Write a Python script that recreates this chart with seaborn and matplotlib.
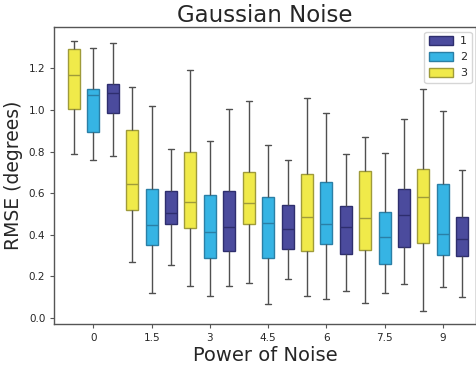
import numpy as np
import pandas as pd
import matplotlib
matplotlib.use("Agg")
import matplotlib.pyplot as plt
from matplotlib.patches import Patch
import seaborn as sns

# Power of noise categories
powers = ["0", "1.5", "3", "4.5", "6", "7.5", "9"]
hue_levels = ["1", "2", "3"]

# five-number summaries: min, q1, median, q3, max
h1_min = [0.779, 0.256, 0.152, 0.186, 0.128, 0.166, 0.099]
h1_q1 = [0.984, 0.451, 0.322, 0.334, 0.306, 0.342, 0.299]
h1_med = [1.080, 0.506, 0.437, 0.427, 0.437, 0.493, 0.382]
h1_q3 = [1.123, 0.610, 0.610, 0.541, 0.536, 0.619, 0.485]
h1_max = [1.320, 0.813, 1.005, 0.758, 0.786, 0.958, 0.712]

h2_min = [0.757, 0.120, 0.106, 0.067, 0.090, 0.122, 0.147]
h2_q1 = [0.893, 0.350, 0.290, 0.288, 0.355, 0.261, 0.304]
h2_med = [1.072, 0.445, 0.414, 0.458, 0.454, 0.389, 0.402]
h2_q3 = [1.099, 0.621, 0.592, 0.582, 0.656, 0.509, 0.643]
h2_max = [1.299, 1.021, 0.853, 0.832, 0.986, 0.795, 0.997]

h3_min = [0.786, 0.267, 0.154, 0.170, 0.106, 0.070, 0.035]
h3_q1 = [1.003, 0.518, 0.435, 0.451, 0.322, 0.328, 0.360]
h3_med = [1.168, 0.643, 0.557, 0.552, 0.485, 0.483, 0.581]
h3_q3 = [1.291, 0.902, 0.797, 0.702, 0.694, 0.706, 0.715]
h3_max = [1.333, 1.109, 1.190, 1.043, 1.059, 0.872, 1.099]

summaries = {
    "1": (h1_min, h1_q1, h1_med, h1_q3, h1_max),
    "2": (h2_min, h2_q1, h2_med, h2_q3, h2_max),
    "3": (h3_min, h3_q1, h3_med, h3_q3, h3_max),
}

rows = []
for h, stats in summaries.items():
    for i, p in enumerate(powers):
        for s in stats:
            rows.append({"Power of Noise": p, "hue": h, "RMSE": s[i]})
df = pd.DataFrame(rows)

fills = {"1": "#4b4b9d", "2": "#36b4e4", "3": "#f0ea4a"}
edges = {"1": "#2e2e6e", "2": "#2a7fa6", "3": "#9f9b3a"}

sns.set_style("ticks")
plt.rcParams["font.family"] = ["DejaVu Sans"]

fig = plt.figure(figsize=(4.77, 3.66), dpi=100)
ax = fig.add_axes([0.114, 0.114, 0.884, 0.812])

order_hue = ["3", "2", "1"]
sns.boxplot(data=df, x="Power of Noise", y="RMSE", hue="hue",
            order=powers, hue_order=order_hue,
            palette=fills, saturation=1, width=1.0, gap=0.38,
            whis=(0, 100), linewidth=1.0, linecolor="#3a3a3a",
            fliersize=0, legend=False, ax=ax)

for cont, h in zip(ax.containers, order_hue):
    for b in cont.boxes:
        b.set_edgecolor(edges[h])
    for m in cont.medians:
        m.set_color(edges[h])
    for w in cont.whiskers:
        w.set_color("#505050")
        w.set_linewidth(1.0)
    for c in cont.caps:
        c.set_color("#505050")

ax.set_xlim(-0.67, 6.57)
for s in ax.spines.values():
    s.set_color("#555555")
    s.set_linewidth(1.0)

ax.tick_params(labelsize=7.5, length=3, color="#555555")
ax.set_xlabel("Power of Noise", fontsize=14, labelpad=2)
ax.set_ylabel("RMSE (degrees)", fontsize=13.5, labelpad=4)
ax.set_title("Gaussian Noise", fontsize=16.5, pad=4)

handles = [Patch(facecolor=fills[h], edgecolor=edges[h], label=h) for h in hue_levels]
ax.legend(handles=handles, loc="upper right", fontsize=8, frameon=True,
          handlelength=2.2, handleheight=0.9, borderaxespad=0.4,
          handletextpad=0.6, borderpad=0.4)

fig.savefig("out.png", dpi=100)
